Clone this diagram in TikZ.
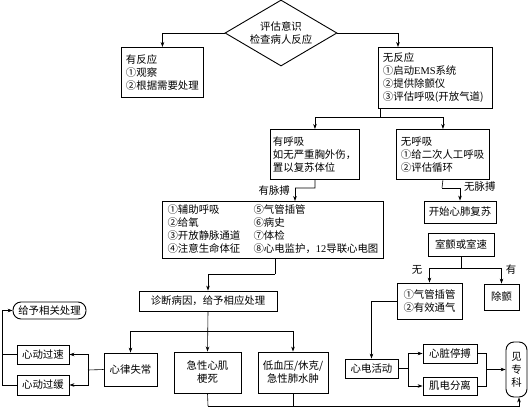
\documentclass[tikz,border=0pt]{standalone}
\usepackage{fontspec}
\setmainfont{Noto Sans CJK SC}
\newfontfamily\latin{Liberation Serif}
\usepackage{tikz}
\usetikzlibrary{
  arrows.meta,      % 箭头样式
  shapes.geometric  % 菱形判断框
}

\begin{document}
\begin{tikzpicture}[x=1pt, y=-1pt, >={Stealth[length=5pt, width=3.6pt]},
    box/.style={draw, line width=0.9pt, inner sep=0pt,
      font=\fontsize{10.4}{13}\selectfont},
    lbox/.style={box, anchor=north west, align=left, inner xsep=4.5pt},
    conn/.style={line width=0.6pt},
    lab/.style={inner sep=1pt, font=\fontsize{10.4}{13}\selectfont}]
    \useasboundingbox (0,0) rectangle (530,407);

    % --- 判断：意识 ---
    \node[box, diamond, aspect=1.7, minimum width=112pt, minimum height=66pt,
      align=center] (dia) at (281,33) {评估意识\\检查病人反应};
    \node[lbox, text width=73pt, minimum height=50pt] (yes) at (121,47)
      {有反应\\①观察\\②根据需要处理};
    \node[lbox, text width=105pt, minimum height=61pt] (no) at (378,47)
      {无反应\\①启动{\latin EMS}系统\\②提供除颤仪\\③评估呼吸(开放气道)};
    \draw[conn,->] (dia.west) -| (yes.north);
    \draw[conn,->] (dia.east) -| ([xshift=20pt]no.north west);

    % --- 判断：呼吸 ---
    \node[lbox, text width=84pt, inner xsep=2.5pt, minimum height=50pt] (br) at (270,129)
      {有呼吸\\如无严重胸外伤，\\置以复苏体位};
    \node[lbox, text width=84pt, minimum height=50pt] (nbr) at (396,129)
      {无呼吸\\①给二次人工呼吸\\②评估循环};
    \coordinate (j1) at (380,117);
    \draw[conn] (no.south -| j1) -- (j1);
    \foreach \t in {br,nbr}{
      \draw[conn,->] (j1) -| (\t.north);
    }

    % --- 判断：脉搏 ---
    \node[box, anchor=north west, minimum width=221pt, minimum height=57pt] (big) at (162,201)
      {\begin{tabular}{@{}p{86pt}@{}l@{}}
        ①辅助呼吸 & ⑤气管插管\\
        ②给氧 & ⑥病史\\
        ③开放静脉通道 & ⑦体检\\
        ④注意生命体征 & ⑧心电监护，{\latin 12}导联心电图
      \end{tabular}};
    \node[box, minimum width=72pt, minimum height=22pt] (cpr) at (460,212) {开始心肺复苏};
    \coordinate (j2) at (315,188);
    \coordinate (j3) at (442,188);
    \coordinate (p1) at (295,188);
    \draw[conn] (br.south) -- (j2) -- (p1);
    \draw[conn,->] (p1) -- (p1 |- big.north);
    \draw[conn] (nbr.south) -- (j3);
    \draw[conn,->] (j3) -| (cpr.north);
    \node[lab, anchor=east] (lpulse) at (291,191) {有脉搏};
    \node[lab, anchor=west] (lnopulse) at (463,187) {无脉搏};

    % --- 室颤或室速 ---
    \node[box, minimum width=66pt, minimum height=23pt] (vf) at (461,244.5) {室颤或室速};
    \node[box, align=left, minimum width=65pt, minimum height=36pt] (intub) at (429.5,301)
      {①气管插管\\②有效通气};
    \node[box, minimum width=35pt, minimum height=26pt] (defib) at (501.5,297) {除颤};
    \coordinate (j8) at (461,268);
    \draw[conn] (vf.south) -- (j8);
    \foreach \t in {intub,defib}{
      \draw[conn,->] (j8) -| (\t.north);
    }
    \node[lab] (lno) at (417,270) {无};
    \node[lab] (lyes) at (511,270) {有};

    % --- 诊断病因 ---
    \node[box, minimum width=138pt, minimum height=20pt] (diag) at (208,301)
      {诊断病因，给予相应处理};
    \coordinate (j4) at (275,274);
    \draw[conn] (big.south -| j4) -- (j4);
    \draw[conn,->] (j4) -| (diag.north);
    \node[box, minimum width=53pt, minimum height=33pt] (arr) at (130.5,369.5) {心律失常};
    \node[box, align=center, minimum width=67pt, minimum height=41pt] (ami) at (207.5,372.5)
      {急性心肌\\梗死};
    \node[box, align=center, minimum width=70pt, minimum height=41pt] (shock) at (293,372.5)
      {低血压/休克/\\急性肺水肿};
    \coordinate (j5) at (208,331);
    \draw[conn,->] (diag.south) -- (ami.north);
    \foreach \t in {arr,shock}{
      \draw[conn,->] (j5) -| (\t.north);
    }

    % --- 心律失常 ---
    \node[box, rounded corners=8pt, minimum width=73pt, minimum height=17pt] (treat) at (49.5,310.5)
      {给予相关处理};
    \node[box, minimum width=52pt, minimum height=19pt] (tachy) at (43,354.5) {心动过速};
    \node[box, minimum width=52pt, minimum height=20pt] (brady) at (43,385) {心动过缓};
    \coordinate (j6) at (88,370);
    \draw[conn] (arr.west) -- (j6);
    \foreach \t in {tachy,brady}{
      \draw[conn,->] (j6) |- (\t.east);
    }
    \coordinate (j7) at (2,310.5);
    \draw[conn] (tachy.west) -- (tachy.west -| j7);
    \draw[conn,->] (brady.west) -| (j7) -- (treat.west);

    % --- 心电活动 ---
    \node[box, minimum width=53pt, minimum height=19pt] (ecg) at (371.5,368.5) {心电活动};
    \node[box, minimum width=54pt, minimum height=19pt] (asys) at (450,353.5) {心脏停搏};
    \node[box, minimum width=54pt, minimum height=18pt] (pea) at (450,386) {肌电分离};
    \node[box, rounded corners=8pt, align=center, minimum width=21pt, minimum height=55pt]
      (spec) at (516.5,369.5) {见\\专\\科};
    \draw[conn,->] (intub.west) -| (ecg.north);
    \coordinate (j9) at (408,368.5);
    \draw[conn] (ecg.east) -- (j9);
    \foreach \t in {asys,pea}{
      \draw[conn,->] (j9) |- (\t.west);
    }
    \coordinate (j10) at (486,369.5);
    \foreach \t in {asys,pea}{
      \draw[conn] (\t.east) -| (j10);
    }
    \draw[conn,->] (j10) -- (spec.west);

    % --- 汇总至专科 ---
    \coordinate (j11) at (208,406);
    \draw[conn] (ami.south) -- (j11);
    \draw[conn] (shock.south) -- (shock.south |- j11);
    \draw[conn,->] (j11) -| ([xshift=2.5pt]spec.south);

  \end{tikzpicture}
\end{document}
